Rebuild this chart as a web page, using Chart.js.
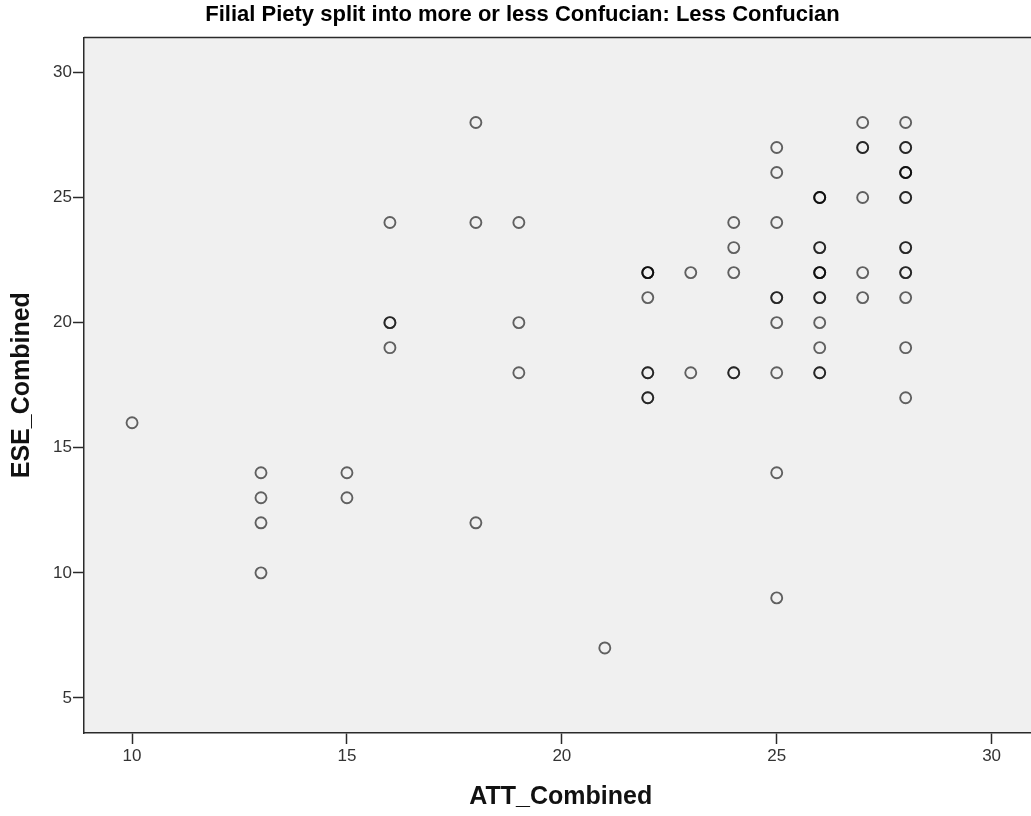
<!DOCTYPE html>
<html>
<head>
<meta charset="utf-8">
<script src="https://cdn.jsdelivr.net/npm/chart.js@4/dist/chart.umd.min.js"></script>
<style>
  html, body { margin: 0; padding: 0; background: #ffffff; overflow: hidden; width: 1031px; height: 816px; }
  #wrap { position: absolute; left: 0; top: 0; width: 1031px; height: 816px; overflow: hidden; }
  canvas { display: block; }
</style>
</head>
<body>
<div id="wrap"><canvas id="c" width="1045" height="816"></canvas></div>
<script>
// ---- Data ----
const chartTitle = "Filial Piety split into more or less Confucian: Less Confucian";
const xAxisTitle = "ATT_Combined";
const yAxisTitle = "ESE_Combined";
const xTickValues = [10, 15, 20, 25, 30];
const yTickValues = [5, 10, 15, 20, 25, 30];

// Paired observations: ATT_Combined (x) and ESE_Combined (y); repeats are overlapping points
const attCombined = [
  10,
  13, 13, 13, 13,
  15, 15,
  16, 16, 16, 16,
  18, 18, 18,
  19, 19, 19,
  21,
  22, 22, 22, 22, 22, 22, 22, 22,
  23, 23,
  24, 24, 24, 24, 24,
  25, 25, 25, 25, 25, 25, 25, 25, 25,
  26, 26, 26, 26, 26, 26, 26, 26, 26, 26, 26, 26, 26, 26,
  27, 27, 27, 27, 27, 27,
  28, 28, 28, 28, 28, 28, 28, 28, 28, 28, 28, 28, 28, 28, 28
];
const eseCombined = [
  16,
  14, 13, 12, 10,
  14, 13,
  24, 20, 20, 19,
  28, 24, 12,
  24, 20, 18,
  7,
  22, 22, 22, 21, 18, 18, 17, 17,
  22, 18,
  24, 23, 22, 18, 18,
  27, 26, 24, 21, 21, 20, 18, 14, 9,
  25, 25, 25, 23, 23, 22, 22, 22, 21, 21, 20, 19, 18, 18,
  28, 27, 27, 25, 22, 21,
  28, 27, 27, 26, 26, 26, 25, 25, 23, 23, 22, 22, 21, 19, 17
];

const points = attCombined.map((x, i) => ({ x: x, y: eseCombined[i] }));

// ---- Plot frame/background plugin ----
const framePlugin = {
  id: 'frame',
  beforeDraw(chart) {
    const { ctx, chartArea: a } = chart;
    ctx.save();
    ctx.fillStyle = '#f0f0f0';
    ctx.fillRect(a.left, a.top, a.right - a.left, a.bottom - a.top);
    ctx.restore();
  },
  afterDraw(chart) {
    const { ctx, chartArea: a } = chart;
    ctx.save();
    ctx.strokeStyle = '#2a2a2a';
    ctx.lineWidth = 1.5;
    ctx.beginPath();
    ctx.moveTo(a.left, a.top);
    ctx.lineTo(a.right + 5, a.top);
    ctx.stroke();
    ctx.restore();
  }
};

const tickFont = { family: "'Liberation Sans', Arial, sans-serif", size: 17 };
const axisTitleFont = { family: "'Liberation Sans', Arial, sans-serif", size: 25, weight: 'bold', lineHeight: 1.2 };

new Chart(document.getElementById('c'), {
  type: 'scatter',
  data: {
    datasets: [{
      data: points,
      pointStyle: 'circle',
      pointRadius: 5.5,
      pointHoverRadius: 5.5,
      pointBorderWidth: 1.9,
      pointBackgroundColor: 'rgba(0,0,0,0)',
      pointBorderColor: 'rgba(0,0,0,0.6)'
    }]
  },
  plugins: [framePlugin],
  options: {
    responsive: false,
    animation: false,
    layout: { padding: 0 },
    plugins: {
      legend: { display: false },
      tooltip: { enabled: false },
      title: {
        display: true,
        text: chartTitle,
        color: '#000000',
        font: { family: "'Liberation Sans', Arial, sans-serif", size: 22, weight: 'bold', lineHeight: 1.2 },
        padding: { top: 2, bottom: 9 }
      }
    },
    scales: {
      x: {
        type: 'linear',
        min: 8.882,
        max: 31.07,
        afterBuildTicks(scale) { scale.ticks = xTickValues.map(v => ({ value: v })); },
        afterFit(scale) { scale.height = 83; },
        ticks: { color: '#333', font: tickFont, padding: 2 },
        grid: { display: true, drawOnChartArea: false, drawTicks: true, tickLength: 11, tickColor: '#2a2a2a', tickWidth: 1.5 },
        border: { display: true, color: '#2a2a2a', width: 1.5 },
        title: { display: true, text: xAxisTitle, color: '#111', font: axisTitleFont, padding: { top: 0, bottom: 4 } }
      },
      y: {
        type: 'linear',
        min: 3.60,
        max: 31.40,
        afterBuildTicks(scale) { scale.ticks = yTickValues.map(v => ({ value: v })); },
        afterFit(scale) { scale.width = 84; },
        ticks: { color: '#333', font: tickFont, padding: 1 },
        grid: { display: true, drawOnChartArea: false, drawTicks: true, tickLength: 11, tickColor: '#2a2a2a', tickWidth: 1.5 },
        border: { display: true, color: '#2a2a2a', width: 1.5 },
        title: { display: true, text: yAxisTitle, color: '#111', font: axisTitleFont, padding: { top: 7, bottom: 0 } }
      }
    }
  }
});
</script>
</body>
</html>
